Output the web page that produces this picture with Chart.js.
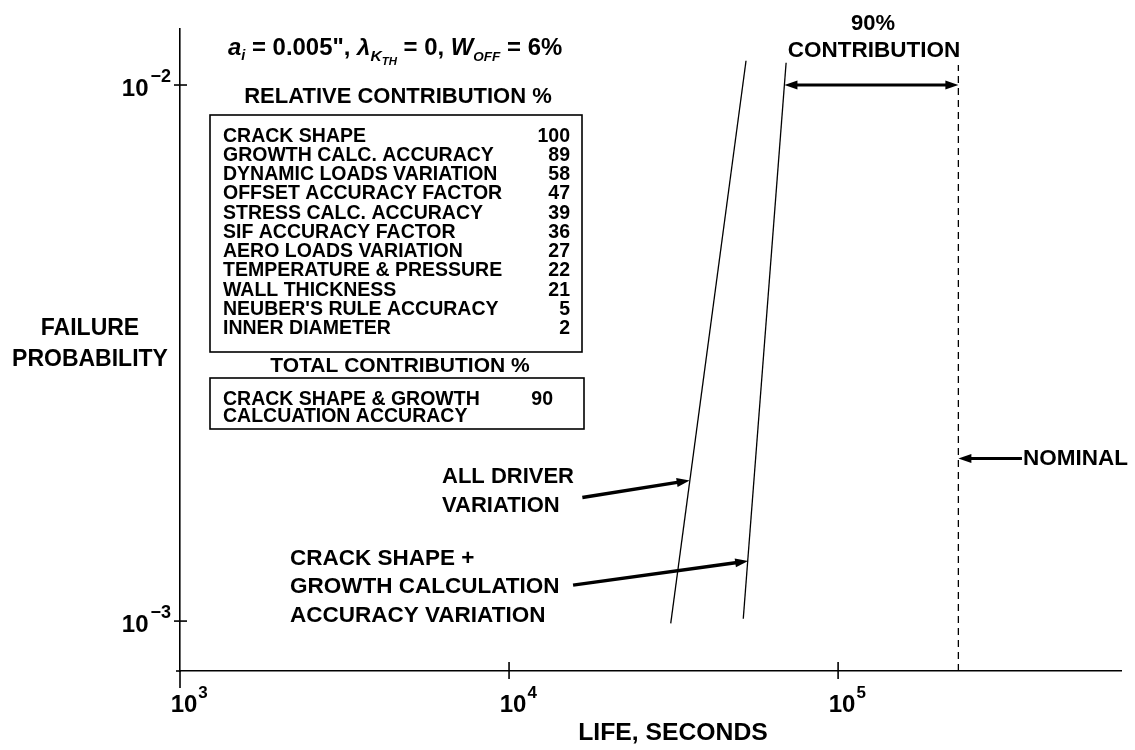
<!DOCTYPE html>
<html>
<head>
<meta charset="utf-8">
<script src="https://cdn.jsdelivr.net/npm/chart.js@4"></script>
<style>
  html, body { margin: 0; padding: 0; background: #fff; }
  canvas { display: block; }
</style>
</head>
<body>
<canvas id="chart" width="1135" height="750"></canvas>
<script>
// Failure probability vs. life for crack-growth driver variation (log-log)

// Probability curves: life (s) and failure probability at the two ends of each line
const allDriverLife = [31000, 52500];
const allDriverProb = [0.00099, 0.0111];
const crackGrowthLife = [51500, 69500];
const crackGrowthProb = [0.00101, 0.0110];
const nominalLife = [232000, 232000];
const nominalProb = [0.000807, 0.0109];

// Relative contribution table
const driverNames = [
  'CRACK SHAPE',
  'GROWTH CALC. ACCURACY',
  'DYNAMIC LOADS VARIATION',
  'OFFSET ACCURACY FACTOR',
  'STRESS CALC. ACCURACY',
  'SIF ACCURACY FACTOR',
  'AERO LOADS VARIATION',
  'TEMPERATURE & PRESSURE',
  'WALL THICKNESS',
  "NEUBER'S RULE ACCURACY",
  'INNER DIAMETER'
];
const relativeContribution = [100, 89, 58, 47, 39, 36, 27, 22, 21, 5, 2];
const totalContributionName = ['CRACK SHAPE & GROWTH', 'CALCUATION ACCURACY'];
const totalContribution = 90;

// Axis ticks
const xTickValues = [1e3, 1e4, 1e5];
const xTickExponents = ['3', '4', '5'];
const yTickValues = [1e-3, 1e-2];
const yTickExponents = ['\u22123', '\u22122'];

// Callout arrows in data space: [lifeFrom, probFrom, lifeTo, probTo]
const allDriverArrow = [16700, 0.00170, 35400, 0.00183];
const crackGrowthArrow = [15650, 0.001167, 53300, 0.001294];
const nominalArrow = [362000, 0.00201, 232000, 0.00201];
const contributionSpan = [68700, 0.0100, 232000, 0.0100];

const FONT = '"Liberation Sans", Arial, Helvetica, sans-serif';

function toPoints(xs, ys) {
  return xs.map((x, i) => ({ x: x, y: ys[i] }));
}

function drawText(ctx, s, x, y, size, opts) {
  const o = Object.assign({ align: 'left', italic: false, sx: 1 }, opts || {});
  ctx.save();
  ctx.font = (o.italic ? 'italic ' : '') + 'bold ' + size + 'px ' + FONT;
  ctx.fillStyle = '#000';
  ctx.textBaseline = 'alphabetic';
  ctx.textAlign = o.align;
  ctx.translate(x, y);
  ctx.scale(o.sx, 1);
  ctx.fillText(s, 0, 0);
  const w = ctx.measureText(s).width * o.sx;
  ctx.restore();
  return w;
}

function arrowHead(ctx, fx, fy, tx, ty, len, half) {
  const a = Math.atan2(ty - fy, tx - fx);
  ctx.beginPath();
  ctx.moveTo(tx, ty);
  ctx.lineTo(tx - len * Math.cos(a) + half * Math.sin(a), ty - len * Math.sin(a) - half * Math.cos(a));
  ctx.lineTo(tx - len * Math.cos(a) - half * Math.sin(a), ty - len * Math.sin(a) + half * Math.cos(a));
  ctx.closePath();
  ctx.fill();
}

function drawArrow(ctx, xs, ys, spec, width, both) {
  const x1 = xs.getPixelForValue(spec[0]), y1 = ys.getPixelForValue(spec[1]);
  const x2 = xs.getPixelForValue(spec[2]), y2 = ys.getPixelForValue(spec[3]);
  const len = 13, half = 4.5;
  const a = Math.atan2(y2 - y1, x2 - x1);
  const sx = both ? x1 + (len - 2) * Math.cos(a) : x1;
  const sy = both ? y1 + (len - 2) * Math.sin(a) : y1;
  ctx.save();
  ctx.strokeStyle = '#000';
  ctx.fillStyle = '#000';
  ctx.lineWidth = width;
  ctx.beginPath();
  ctx.moveTo(sx, sy);
  ctx.lineTo(x2 - (len - 2) * Math.cos(a), y2 - (len - 2) * Math.sin(a));
  ctx.stroke();
  arrowHead(ctx, x1, y1, x2, y2, len, half);
  if (both) arrowHead(ctx, x2, y2, x1, y1, len, half);
  ctx.restore();
}

const decorations = {
  id: 'decorations',
  afterDraw(chart) {
    const ctx = chart.ctx;
    const xs = chart.scales.x, ys = chart.scales.y;
    const area = chart.chartArea;

    // tick marks crossing the axes
    ctx.save();
    ctx.strokeStyle = '#000';
    ctx.lineWidth = 1.6;
    xTickValues.forEach((v) => {
      const px = xs.getPixelForValue(v);
      ctx.beginPath();
      if (v === xs.min) {
        ctx.moveTo(px, area.bottom);
        ctx.lineTo(px, area.bottom + 17);
      } else {
        ctx.moveTo(px, area.bottom - 9);
        ctx.lineTo(px, area.bottom + 8);
      }
      ctx.stroke();
    });
    yTickValues.forEach((v) => {
      const py = ys.getPixelForValue(v);
      ctx.beginPath();
      ctx.moveTo(area.left - 6, py);
      ctx.lineTo(area.left + 7, py);
      ctx.stroke();
    });
    ctx.beginPath();
    ctx.moveTo(area.left - 4, area.bottom);
    ctx.lineTo(area.left, area.bottom);
    ctx.stroke();
    ctx.restore();

    // tick labels as powers of ten
    xTickValues.forEach((v, i) => {
      const px = xs.getPixelForValue(v) + 4;
      const w = drawText(ctx, '10', px, area.bottom + 41, 24, { align: 'center' });
      drawText(ctx, xTickExponents[i], px + w / 2 + 1, area.bottom + 27, 17);
    });
    yTickValues.forEach((v, i) => {
      const py = ys.getPixelForValue(v);
      const we = drawText(ctx, yTickExponents[i], area.left - 9, py - 3, 18, { align: 'right' });
      drawText(ctx, '10', area.left - 11 - we, py + 11, 24, { align: 'right' });
    });

    // axis titles
    drawText(ctx, 'LIFE, SECONDS', 673, 740, 24, { align: 'center', sx: 1.03 });
    drawText(ctx, 'FAILURE', 90, 335, 23, { align: 'center' });
    drawText(ctx, 'PROBABILITY', 90, 366, 23, { align: 'center' });

    // parameter line
    const runs = [
      { t: 'a', s: 23, i: true, dy: 0 },
      { t: 'i', s: 14, i: true, dy: 5 },
      { t: ' = 0.005", ', s: 23, i: false, dy: 0 },
      { t: '\u03bb', s: 23, i: true, dy: 0 },
      { t: 'K', s: 15, i: true, dy: 6 },
      { t: 'TH', s: 11, i: true, dy: 10 },
      { t: ' = 0, ', s: 23, i: false, dy: 0 },
      { t: 'W', s: 23, i: true, dy: 0 },
      { t: 'OFF', s: 13, i: true, dy: 6 },
      { t: ' = 6%', s: 23, i: false, dy: 0 }
    ];
    let cx = 228;
    runs.forEach((r) => {
      cx += drawText(ctx, r.t, cx, 55 + r.dy, r.s, { italic: r.i, sx: 1.04 });
    });

    // relative contribution table
    drawText(ctx, 'RELATIVE CONTRIBUTION %', 398, 103, 22, { align: 'center' });
    ctx.save();
    ctx.strokeStyle = '#000';
    ctx.lineWidth = 1.6;
    ctx.strokeRect(210, 115, 372, 237);
    ctx.strokeRect(210, 378, 374, 51);
    ctx.restore();
    driverNames.forEach((name, k) => {
      const by = 141.5 + k * 19.25;
      drawText(ctx, name, 223, by, 19.5);
      drawText(ctx, String(relativeContribution[k]), 570, by, 19.5, { align: 'right' });
    });

    drawText(ctx, 'TOTAL CONTRIBUTION %', 400, 372, 21, { align: 'center' });
    drawText(ctx, totalContributionName[0], 223, 405, 19.5);
    drawText(ctx, totalContributionName[1], 223, 422, 19.5);
    drawText(ctx, String(totalContribution), 553, 405, 19.5, { align: 'right' });

    // callouts
    drawText(ctx, '90%', 873, 30, 22, { align: 'center' });
    drawText(ctx, 'CONTRIBUTION', 874, 57, 22.5, { align: 'center' });
    drawText(ctx, 'ALL DRIVER', 442, 483, 22);
    drawText(ctx, 'VARIATION', 442, 512, 22);
    drawText(ctx, 'CRACK SHAPE +', 290, 565, 22.5);
    drawText(ctx, 'GROWTH CALCULATION', 290, 593, 22.5);
    drawText(ctx, 'ACCURACY VARIATION', 290, 622, 22.5);
    drawText(ctx, 'NOMINAL', 1023, 465, 22.5);

    drawArrow(ctx, xs, ys, allDriverArrow, 3.5, false);
    drawArrow(ctx, xs, ys, crackGrowthArrow, 3.5, false);
    drawArrow(ctx, xs, ys, nominalArrow, 3, false);
    drawArrow(ctx, xs, ys, contributionSpan, 3, true);
  }
};

new Chart(document.getElementById('chart').getContext('2d'), {
  type: 'scatter',
  data: {
    datasets: [
      {
        label: 'ALL DRIVER VARIATION',
        data: toPoints(allDriverLife, allDriverProb),
        showLine: true, borderColor: '#000', borderWidth: 1.3, pointRadius: 0, fill: false
      },
      {
        label: 'CRACK SHAPE + GROWTH CALCULATION ACCURACY VARIATION',
        data: toPoints(crackGrowthLife, crackGrowthProb),
        showLine: true, borderColor: '#000', borderWidth: 1.3, pointRadius: 0, fill: false
      },
      {
        label: 'NOMINAL',
        data: toPoints(nominalLife, nominalProb),
        showLine: true, borderColor: '#000', borderWidth: 1.3, borderDash: [7, 5],
        pointRadius: 0, fill: false
      }
    ]
  },
  options: {
    responsive: false,
    animation: false,
    devicePixelRatio: 1,
    layout: { padding: { left: 180, right: 14, top: 29, bottom: 79 } },
    plugins: { legend: { display: false }, tooltip: { enabled: false } },
    scales: {
      x: {
        type: 'logarithmic', min: 1000, max: 724000,
        ticks: { display: false },
        grid: { display: false, drawTicks: false },
        border: { display: true, color: '#000', width: 1.6 }
      },
      y: {
        type: 'logarithmic', min: 0.000807, max: 0.01272,
        ticks: { display: false },
        grid: { display: false, drawTicks: false },
        border: { display: true, color: '#000', width: 1.6 }
      }
    }
  },
  plugins: [decorations]
});
</script>
</body>
</html>
